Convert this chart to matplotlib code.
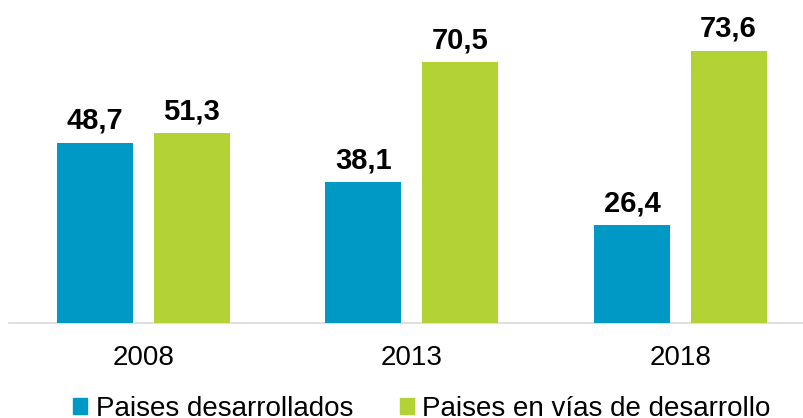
import numpy as np
import matplotlib
import matplotlib.pyplot as plt
from matplotlib.patches import Patch

matplotlib.use("Agg")

plt.rcParams["font.family"] = "Liberation Sans"

years = ["2008", "2013", "2018"]
desarrollados = [48.7, 38.1, 26.4]
en_desarrollo = [51.3, 70.5, 73.6]
series_names = ["Paises desarrollados", "Paises en vías de desarrollo"]

blue = "#0099c6"
green = "#b2d235"

fig = plt.figure(figsize=(8.04, 4.18), dpi=100)
ax = fig.add_axes([9 / 804, 95 / 418, 805.5 / 804, 296 / 418])

x = np.arange(len(years))
width = 0.283
off = 0.18

b1 = ax.bar(x - off, desarrollados, width, color=blue, zorder=3)
b2 = ax.bar(x + off, en_desarrollo, width, color=green, zorder=3)

for bars, vals in ((b1, desarrollados), (b2, en_desarrollo)):
    for rect, v in zip(bars, vals):
        ax.annotate(f"{v:.1f}".replace(".", ","),
                    (rect.get_x() + rect.get_width() / 2, v),
                    xytext=(0, 10), textcoords="offset points",
                    ha="center", va="baseline", fontsize=21, fontweight="bold")

ax.set_xlim(-0.5, 2.5)
ax.set_ylim(0, 80)
ax.set_xticks(x, years)
ax.tick_params(axis="x", length=0, pad=16, labelsize=20)
ax.set_yticks([])
for s in ("top", "right", "left"):
    ax.spines[s].set_visible(False)
ax.spines["bottom"].set_color("#d9d9d9")
ax.spines["bottom"].set_linewidth(1.2)

handles = [Patch(color=blue), Patch(color=green)]
fig.legend(handles, series_names, loc="center", bbox_to_anchor=(0.525, 0.022),
           ncol=2, frameon=False, fontsize=20, handlelength=0.5, handleheight=0.5,
           handletextpad=0.3, columnspacing=1.7, borderpad=0, borderaxespad=0)

fig.savefig("out.png", dpi=100)
